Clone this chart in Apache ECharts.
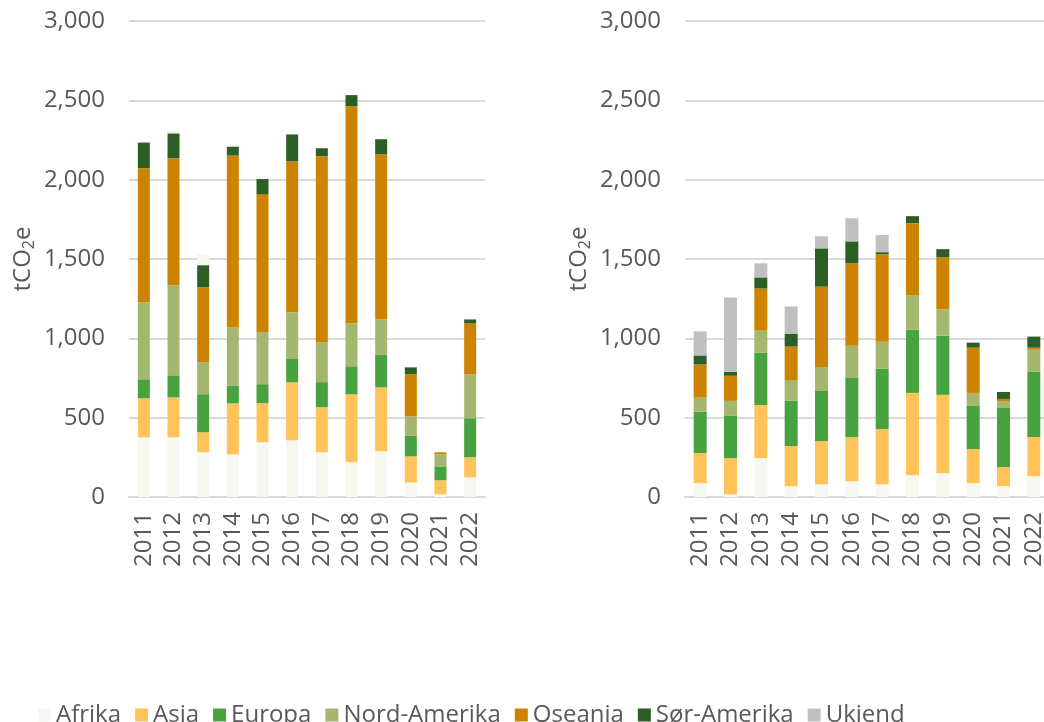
<!DOCTYPE html>
<html>
<head>
<meta charset="utf-8">
<title>tCO2e per region</title>
<script src="https://cdn.jsdelivr.net/npm/echarts@6/dist/echarts.min.js"></script>
<style>
  html, body { margin: 0; padding: 0; background: #fff; }
  #chart { width: 1044px; height: 722px; }
</style>
</head>
<body>
<div id="chart"></div>
<script>
  // kategoriar (år)
  var years = ['2011', '2012', '2013', '2014', '2015', '2016', '2017', '2018', '2019', '2020', '2021', '2022'];
  var regions = ['Afrika', 'Asia', 'Europa', 'Nord-Amerika', 'Oseania', 'Sør-Amerika', 'Ukjend'];
  var yTicks = [0, 500, 1000, 1500, 2000, 2500, 3000];

  // venstre diagram
  var afrikaL = [376, 376, 282, 269, 345, 357, 282, 219, 288, 92, 17, 124];
  var asiaL = [246, 252, 126, 321, 246, 366, 284, 428, 403, 164, 88, 126];
  var europaL = [120, 139, 240, 113, 120, 151, 158, 177, 208, 132, 88, 246];
  var nordAmL = [485, 567, 202, 365, 328, 290, 252, 271, 221, 120, 76, 277];
  var oseaniaL = [844, 800, 472, 1084, 870, 951, 1172, 1368, 1040, 265, 13, 321];
  var sorAmL = [164, 158, 139, 57, 95, 170, 50, 70, 95, 44, 0, 25];
  var restL = [10, 19, 69, 13, 19, 0, 0, 0, 0, 0, 0, 0]; // lys stripe øvst

  // høgre diagram
  var afrikaR = [87, 17, 245, 68, 80, 99, 80, 137, 150, 87, 68, 131];
  var asiaR = [190, 228, 335, 253, 272, 278, 348, 519, 494, 215, 120, 247];
  var europaR = [260, 266, 329, 285, 316, 373, 380, 399, 373, 272, 373, 411];
  var nordAmR = [89, 95, 139, 127, 152, 203, 171, 215, 165, 82, 44, 139];
  var oseaniaR = [209, 158, 266, 215, 506, 519, 551, 456, 329, 285, 13, 13];
  var sorAmR = [57, 25, 70, 82, 241, 139, 13, 44, 51, 32, 44, 70];
  var ukjendR = [152, 468, 89, 171, 76, 146, 108, 0, 0, 0, 0, 0];

  var colors = {
    'Afrika': '#f6f7f0',
    'Asia': '#ffc35a',
    'Europa': '#48a23f',
    'Nord-Amerika': '#a5b76e',
    'Oseania': '#cc8300',
    'Sør-Amerika': '#2b5f26',
    'Ukjend': '#c0c0c0'
  };

  var font = '"Open Sans", "Noto Sans", sans-serif';
  var textGrey = '#595959';
  var lineGrey = '#d9d9d9';
  var fs = 24;

  function bar(name, data, idx, stack, width) {
    return {
      name: name,
      type: 'bar',
      stack: stack,
      xAxisIndex: idx,
      yAxisIndex: idx,
      barWidth: width,
      itemStyle: {color: colors[name] || colors['Afrika']},
      data: data
    };
  }

  function xAxis(idx) {
    return {
      type: 'category',
      gridIndex: idx,
      data: years,
      axisLine: {lineStyle: {color: lineGrey, width: 2}},
      axisTick: {show: false},
      axisLabel: {interval: 0, rotate: 90, margin: 15, color: textGrey, fontSize: fs, fontFamily: font}
    };
  }

  function yAxis(idx) {
    return {
      type: 'value',
      gridIndex: idx,
      min: yTicks[0],
      max: yTicks[yTicks.length - 1],
      interval: 500,
      name: '{a|tCO}{b|2}{a|e}',
      nameLocation: 'middle',
      nameRotate: 90,
      nameGap: 92,
      nameTextStyle: {
        rich: {
          a: {fontSize: fs, color: textGrey, fontFamily: font},
          b: {fontSize: 16, color: textGrey, fontFamily: font, padding: [11, 0, 0, 0]}
        }
      },
      axisLine: {show: false},
      axisTick: {show: false},
      splitLine: {lineStyle: {color: lineGrey, width: 2}},
      axisLabel: {
        margin: 24,
        color: textGrey,
        fontSize: fs,
        fontFamily: font,
        formatter: function (v) { return v.toLocaleString('en-US'); }
      }
    };
  }

  var chart = echarts.init(document.getElementById('chart'));
  chart.setOption({
    animation: false,
    textStyle: {fontFamily: font},
    // høgre rutenett går litt ut over kanten, som i originalen
    grid: [
      {left: 129, top: 21, width: 356, height: 476, outerBoundsMode: 'none'},
      {left: 685, top: 21, width: 364, height: 476, outerBoundsMode: 'none'}
    ],
    legend: {
      data: regions,
      left: 38,
      top: 703,
      padding: 0,
      icon: 'rect',
      itemWidth: 13,
      itemHeight: 13,
      itemGap: 14,
      textStyle: {color: textGrey, fontSize: fs, fontFamily: font}
    },
    xAxis: [xAxis(0), xAxis(1)],
    yAxis: [yAxis(0), yAxis(1)],
    series: [
      bar('Afrika', afrikaL, 0, 'L', 12),
      bar('Asia', asiaL, 0, 'L', 12),
      bar('Europa', europaL, 0, 'L', 12),
      bar('Nord-Amerika', nordAmL, 0, 'L', 12),
      bar('Oseania', oseaniaL, 0, 'L', 12),
      bar('Sør-Amerika', sorAmL, 0, 'L', 12),
      bar('Annan', restL, 0, 'L', 12),
      bar('Afrika', afrikaR, 1, 'R', 13),
      bar('Asia', asiaR, 1, 'R', 13),
      bar('Europa', europaR, 1, 'R', 13),
      bar('Nord-Amerika', nordAmR, 1, 'R', 13),
      bar('Oseania', oseaniaR, 1, 'R', 13),
      bar('Sør-Amerika', sorAmR, 1, 'R', 13),
      bar('Ukjend', ukjendR, 1, 'R', 13)
    ]
  });
</script>
</body>
</html>
